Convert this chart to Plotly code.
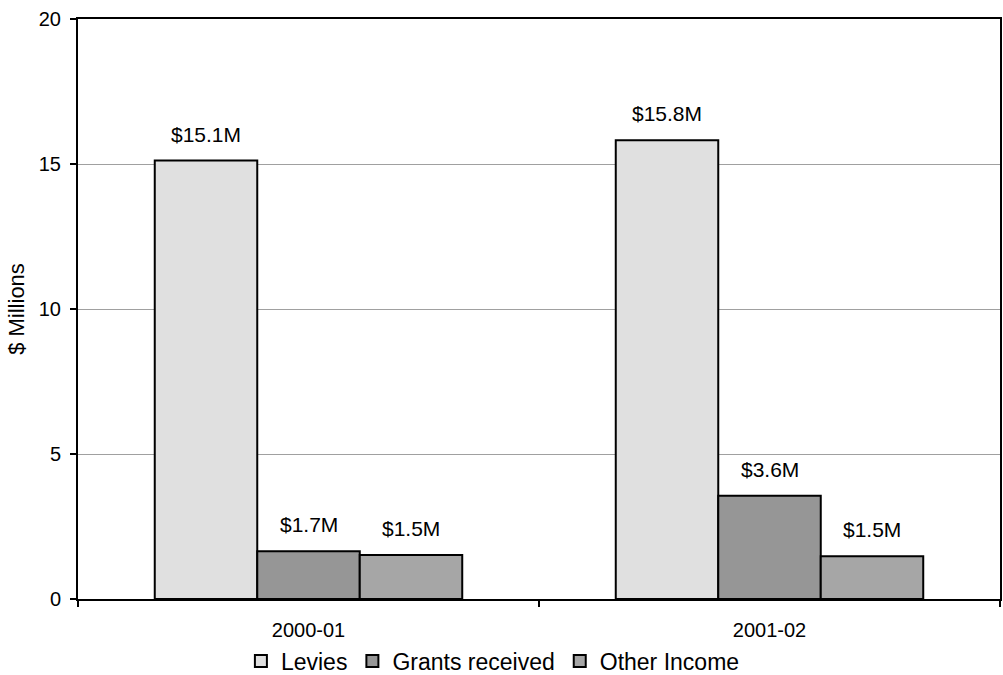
import plotly.graph_objects as go

categories = ["2000-01", "2001-02"]
levies = [15.12, 15.82]
grants = [1.65, 3.56]
other = [1.52, 1.47]
levies_labels = ["$15.1M", "$15.8M"]
grants_labels = ["$1.7M", "$3.6M"]
other_labels = ["$1.5M", "$1.5M"]
y_ticks = [0, 5, 10, 15, 20]

FONT = "Liberation Sans, Arial, sans-serif"
BARGAP = 0.333
series = [
    ("Levies", levies, levies_labels, "#E0E0E0"),
    ("Grants received", grants, grants_labels, "#969696"),
    ("Other Income", other, other_labels, "#A6A6A6"),
]

fig = go.Figure()
n = len(series)
barw = (1 - BARGAP) / n
for j, (name, vals, labels, color) in enumerate(series):
    fig.add_trace(go.Bar(
        name=name, x=categories, y=vals,
        marker=dict(color=color, line=dict(color="black", width=2)),
    ))
    for i, (v, lab) in enumerate(zip(vals, labels)):
        fig.add_annotation(
            x=i + (j - (n - 1) / 2) * barw, y=v, xref="x", yref="y",
            text=lab, showarrow=False, yanchor="bottom", yshift=13,
            font=dict(family=FONT, size=21, color="black"),
        )

fig.update_layout(
    width=1003, height=675,
    margin=dict(l=78, r=3, t=19, b=76, autoexpand=False),
    paper_bgcolor="white", plot_bgcolor="white",
    barmode="group", bargap=BARGAP, bargroupgap=0,
    font=dict(family=FONT, size=20, color="black"),
    legend=dict(orientation="h", x=0.45, xanchor="center", y=-0.107, yanchor="middle",
                font=dict(family=FONT, size=23, color="black"),
                itemwidth=30, tracegroupgap=0),
    showlegend=True,
)
fig.update_xaxes(
    type="category", tickson="boundaries", ticks="outside", ticklen=6, tickwidth=2,
    tickcolor="black", showline=True, linecolor="black", linewidth=2, mirror=True,
    showgrid=False, tickfont=dict(family=FONT, size=20, color="black"),
    ticklabelstandoff=12, automargin=False,
)
fig.update_yaxes(
    range=[0, 20], tickvals=y_ticks, ticks="outside", ticklen=6, tickwidth=2,
    tickcolor="black", showline=True, linecolor="black", linewidth=2, mirror=True,
    showgrid=True, gridcolor="#A0A0A0", gridwidth=1, zeroline=False,
    tickfont=dict(family=FONT, size=20, color="black"), automargin=False,
    ticklabelstandoff=5,
    title=dict(text="$ Millions", font=dict(family=FONT, size=22, color="black"), standoff=8),
)

fig.write_html("out.html")
